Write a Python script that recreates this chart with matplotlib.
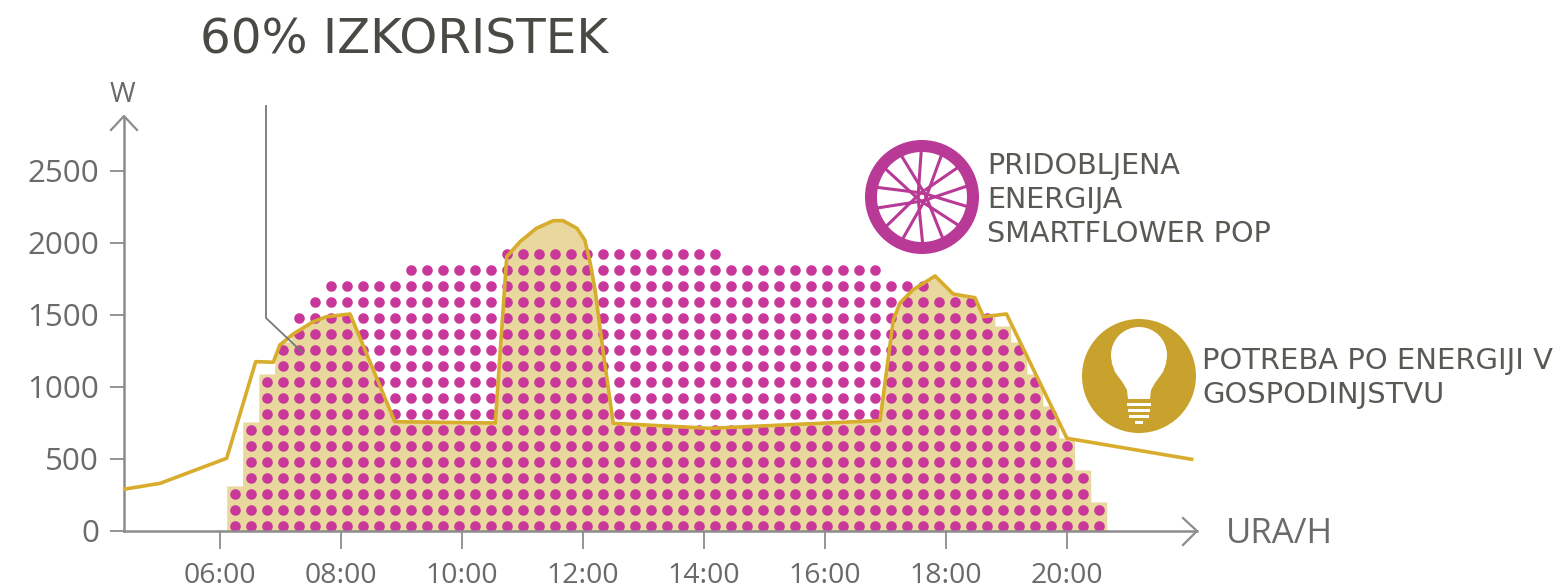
#!/usr/bin/env python3

import numpy as np
import matplotlib
matplotlib.use("Agg")
import matplotlib.pyplot as plt
from matplotlib.patches import Circle, Polygon, Rectangle

plt.rcParams["font.family"] = ["Open Sans", "DejaVu Sans"]

# consumption curve, hour of day / watts
demand_hours = [4.41, 5.01, 6.11, 6.59, 6.88, 6.99, 7.21, 7.54, 7.76, 8.15, 8.89, 10.55, 10.74,
                10.96, 11.23, 11.51, 11.67, 11.9, 12.03, 12.12, 12.2, 12.33, 12.5, 14.1, 16.91,
                17.13, 17.24, 17.45, 17.82, 18.12, 18.48, 18.62, 19.0, 20.0, 22.06]
demand_watts = [290, 331, 505, 1176, 1172, 1292, 1368, 1453, 1488, 1507, 759, 750, 1905,
                2009, 2102, 2155, 2155, 2102, 2021, 1860, 1674, 1257, 748, 713, 767,
                1465, 1583, 1673, 1771, 1646, 1620, 1488, 1507, 644, 498]

# dots stacked per column for the solar production
dot_counts = [3, 7, 10, 12, 14, 15, 16, 16, 16, 16, 16, 17, 17, 17, 17, 17, 17,
              18, 18, 18, 18, 18, 18, 18, 18, 18, 18, 18, 18, 18, 18,
              17, 17, 17, 17, 17, 17, 17, 17, 17, 17,
              16, 16, 16, 15, 15, 15, 14, 13, 12, 10, 8, 6, 4, 2]
first_dot_hour = 6.243
dot_hour_step = 0.2645
first_dot_watt = 35
dot_watt_step = 111.1

# the tan area is not cut by the dots over the two demand humps
open_fill_spans = [(10.6, 12.5), (17.0, 18.7)]

hour_ticks = [6, 8, 10, 12, 14, 16, 18, 20]
hour_labels = ["06:00", "08:00", "10:00", "12:00", "14:00", "16:00", "18:00", "20:00"]
watt_ticks = [0, 500, 1000, 1500, 2000, 2500]

W, H = 1556, 588
DOT = "#C8389A"
WHEEL = "#B93A96"
GOLD = "#D8AC2C"
BULB = "#C8A22C"
FILL = "#E9D89E"
GRAY = "#8C8C8C"
TEXT = "#5A5A55"


def main():
    fig = plt.figure(figsize=(W / 100, H / 100), dpi=100)
    ax = fig.add_axes([124 / W, 1 - 531 / H, (1197 - 124) / W, (531 - 118) / H])
    ax.set_xlim(4.413, 22.15)
    ax.set_ylim(0, 2868)

    col_hours = first_dot_hour + dot_hour_step * np.arange(len(dot_counts))
    counts = np.array(dot_counts)

    # tan area = where demand is covered by production
    edges = np.append(col_hours - dot_hour_step / 2, col_hours[-1] + dot_hour_step / 2)
    fine = np.linspace(edges[0], edges[-1], 3000)
    idx = np.clip(np.searchsorted(edges, fine, side="right") - 1, 0, len(counts) - 1)
    tops = first_dot_watt + (counts[idx] - 0.5) * dot_watt_step
    for start, end in open_fill_spans:
        tops[(fine > start) & (fine < end)] = 3000
    ax.fill_between(fine, 0, np.minimum(tops, np.interp(fine, demand_hours, demand_watts)),
                    color=FILL, linewidth=0, zorder=1)

    xs, ys = [], []
    for hour, count in zip(col_hours, dot_counts):
        for row in range(count):
            xs.append(hour)
            ys.append(first_dot_watt + row * dot_watt_step)
    ax.scatter(xs, ys, s=58, color=DOT, linewidths=0, zorder=2, clip_on=False)

    ax.plot(demand_hours, demand_watts, color=GOLD, linewidth=2.6, solid_joinstyle="round", zorder=3)

    for side in ["top", "right"]:
        ax.spines[side].set_visible(False)
    for side in ["left", "bottom"]:
        ax.spines[side].set_color(GRAY)
        ax.spines[side].set_linewidth(1.8)
    ax.set_xticks(hour_ticks, hour_labels)
    ax.set_yticks(watt_ticks)
    ax.tick_params(axis="x", length=13, width=1.3, color=GRAY, labelcolor="#6A6A6A", labelsize=20.5, pad=9)
    ax.tick_params(axis="y", length=10, width=1.3, color=GRAY, labelcolor="#6A6A6A", labelsize=22.5, pad=8)
    ax.patch.set_alpha(0)

    # everything else is placed in image pixels
    over = fig.add_axes([0, 0, 1, 1])
    over.set_xlim(0, W)
    over.set_ylim(H, 0)
    over.axis("off")

    over.plot([111, 124, 137], [130, 116, 130], color=GRAY, linewidth=1.6)
    over.plot([1183, 1197, 1183], [518, 531, 545], color=GRAY, linewidth=1.6)
    over.plot([266, 266, 302], [106, 318, 352], color="#777777", linewidth=1.3)

    over.text(200, 40, "60% IZKORISTEK", fontsize=34.8, family="DejaVu Sans", color="#4A4A45",
              va="center", ha="left")
    over.text(122, 95, "W", fontsize=20, color="#6A6A6A", va="center", ha="center")
    over.text(1226, 534, "URA/H", fontsize=25, color="#6A6A6A", va="center", ha="left")
    for y, line in zip([166, 200, 234], ["PRIDOBLJENA", "ENERGIJA", "SMARTFLOWER POP"]):
        over.text(987, y, line, fontsize=20.6, family="DejaVu Sans", color=TEXT, va="center", ha="left")
    for y, line in zip([361, 395], ["POTREBA PO ENERGIJI V", "GOSPODINJSTVU"]):
        over.text(1202, y, line, fontsize=20.9, family="DejaVu Sans", color=TEXT, va="center", ha="left")

    # wheel icon
    cx, cy = 922, 197
    over.add_patch(Circle((cx, cy), 57, color=WHEEL, linewidth=0))
    over.add_patch(Circle((cx, cy), 45, color="white", linewidth=0))
    for k in range(14):
        angle = np.deg2rad(k * 360 / 14 + 12)
        hub = angle + np.pi / 2 * (1 if k % 2 else -1)
        over.plot([cx + 4 * np.cos(hub), cx + 47 * np.cos(angle)],
                  [cy + 4 * np.sin(hub), cy + 47 * np.sin(angle)],
                  color=WHEEL, linewidth=2.2)

    # bulb icon
    bx, by = 1139, 376
    over.add_patch(Circle((bx, by), 57, color=BULB, linewidth=0))
    over.add_patch(Circle((bx, by - 21), 28, color="white", linewidth=0))
    over.add_patch(Polygon([(bx - 27.5, by - 14), (bx - 24, by - 4), (bx - 16, by + 7), (bx - 12, by + 14),
                            (bx - 11, by + 23), (bx + 11, by + 23), (bx + 12, by + 14), (bx + 16, by + 7),
                            (bx + 24, by - 4), (bx + 27.5, by - 14)],
                           color="white", linewidth=0))
    for dy, half in [(27, 12), (33, 11), (39, 10)]:
        over.add_patch(Rectangle((bx - half, by + dy), 2 * half, 3, color="white", linewidth=0))
    over.add_patch(Rectangle((bx - 4, by + 45), 8, 3, color="white", linewidth=0))

    fig.savefig("out.png", dpi=100)
    plt.close(fig)


if __name__ == "__main__":
    main()
